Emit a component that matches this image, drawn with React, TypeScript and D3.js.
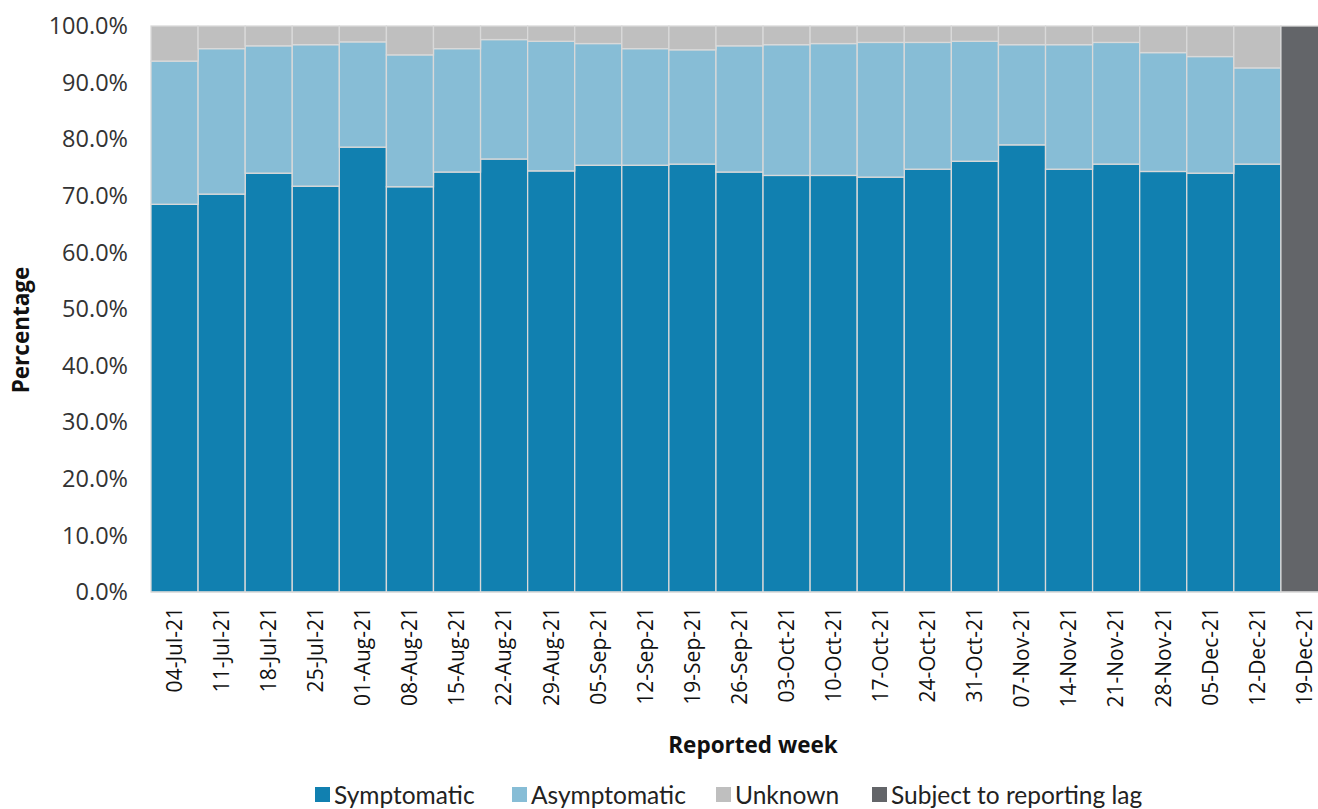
import React from "react";
import * as d3 from "d3";

const weeks = ["04-Jul-21","11-Jul-21","18-Jul-21","25-Jul-21","01-Aug-21","08-Aug-21","15-Aug-21","22-Aug-21","29-Aug-21","05-Sep-21","12-Sep-21","19-Sep-21","26-Sep-21","03-Oct-21","10-Oct-21","17-Oct-21","24-Oct-21","31-Oct-21","07-Nov-21","14-Nov-21","21-Nov-21","28-Nov-21","05-Dec-21","12-Dec-21","19-Dec-21"];
const symptomatic = [68.5,70.3,74.0,71.7,78.6,71.6,74.2,76.5,74.4,75.4,75.4,75.6,74.2,73.6,73.6,73.3,74.7,76.1,79.0,74.7,75.6,74.3,74.0,75.6,0];
const asymptomatic = [25.3,25.7,22.5,25.0,18.6,23.3,21.8,21.1,22.9,21.5,20.6,20.2,22.3,23.1,23.3,23.8,22.4,21.2,17.7,22.0,21.5,21.0,20.6,17.0,0];
const unknown = symptomatic.map((s, i) => (i === 24 ? 0 : 100 - s - asymptomatic[i]));
const lag = [0,0,0,0,0,0,0,0,0,0,0,0,0,0,0,0,0,0,0,0,0,0,0,0,100];
const yTicks = [0,10,20,30,40,50,60,70,80,90,100];

const seriesNames = ["Symptomatic","Asymptomatic","Unknown","Subject to reporting lag"];
const colors = ["#1180b0","#87bdd6","#bfbfbf","#636569"];

export default function App() {
  const left = 151, right = 1328, top = 26, bottom = 592;
  const x = d3.scaleBand<string>().domain(weeks).range([left, right]).padding(0);
  const y = d3.scaleLinear().domain([0, 100]).range([bottom, top]);
  const rows = weeks.map((w, i) => ({ w, s0: symptomatic[i], s1: asymptomatic[i], s2: unknown[i], s3: lag[i] }));
  const stack = d3.stack<any>().keys(["s0","s1","s2","s3"]);
  const layers = stack(rows);
  const legendX = [315, 512, 716, 872];
  const font = "'Open Sans', sans-serif";

  return (
    <svg width={1318} height={809} style={{ position: "absolute", left: 0, top: 0, background: "#fff" }}>
      <rect x={0} y={0} width={1318} height={809} fill="#fff" />
      {layers.map((layer, li) => (
        <g key={li}>
          {layer.map((d, i) => {
            const h = y(d[0]) - y(d[1]);
            if (h <= 0) return null;
            return (
              <rect key={i} x={x(weeks[i])!} y={y(d[1])} width={x.bandwidth()} height={h}
                fill={colors[li]} stroke="#d9d9d9" strokeWidth={1.3} />
            );
          })}
        </g>
      ))}
      <line x1={left} x2={right} y1={bottom} y2={bottom} stroke="#d9d9d9" strokeWidth={1} />
      {yTicks.map(t => (
        <text key={t} x={128} y={y(t)} dy="0.35em" textAnchor="end" fontFamily={font} fontSize={23.5} fill="#333">
          {t.toFixed(1)}%
        </text>
      ))}
      {weeks.map(w => (
        <text key={w} transform={`translate(${x(w)! + x.bandwidth() / 2},${607}) rotate(-90)`} dy="0.35em" textAnchor="end"
          fontFamily={font} fontSize={21} fill="#111">
          {w}
        </text>
      ))}
      <text x={753} y={753} textAnchor="middle" fontFamily={font} fontWeight="bold" fontSize={22.5} fill="#111">Reported week</text>
      <text transform="translate(29,330) rotate(-90)" textAnchor="middle" fontFamily={font} fontWeight="bold" fontSize={22.5} fill="#111">Percentage</text>
      {seriesNames.map((n, i) => (
        <g key={n}>
          <rect x={legendX[i]} y={787} width={15} height={15} fill={colors[i]} />
          <text x={legendX[i] + 19} y={795} dy="0.35em" fontFamily="Lato, sans-serif" fontSize={24.5} fill="#222">{n}</text>
        </g>
      ))}
    </svg>
  );
}
